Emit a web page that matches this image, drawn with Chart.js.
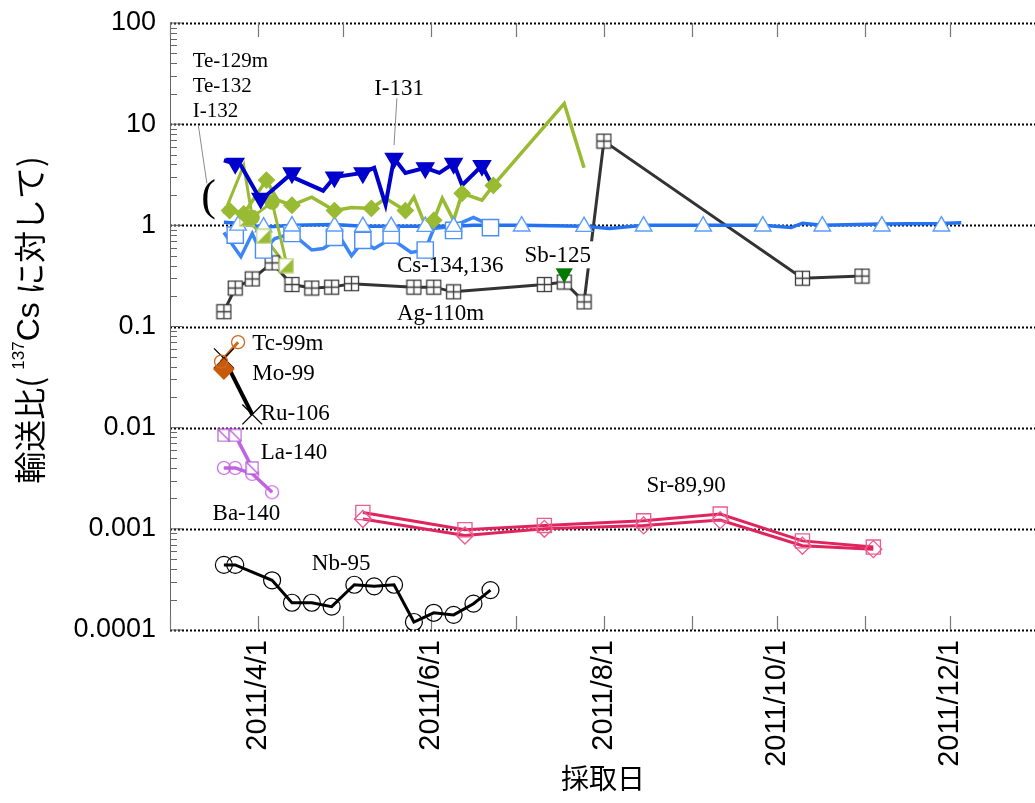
<!DOCTYPE html>
<html>
<head>
<meta charset="utf-8">
<script src="https://cdn.jsdelivr.net/npm/chart.js@4.4.1/dist/chart.umd.min.js"></script>
<style>
  html, body { margin: 0; padding: 0; background: #fff; }
  #wrap { width: 1035px; height: 803px; }
</style>
</head>
<body>
<div id="wrap"><canvas id="c" width="1035" height="803"></canvas></div>
<script>
/* ── Axes ───────────────────────────────────────────────────────────── */
// days counted from 2011/3/1
const MONTH_START   = { 3: 0, 4: 31, 5: 61, 6: 92, 7: 122, 8: 153, 9: 184, 10: 214, 11: 245, 12: 275 };
const X_TICK_DAYS   = [0, 31, 61, 92, 122, 153, 184, 214, 245, 275];
const X_TICK_LABELS = ['', '2011/4/1', '', '2011/6/1', '', '2011/8/1', '', '2011/10/1', '', '2011/12/1'];
const Y_TICKS       = [0.0001, 0.001, 0.01, 0.1, 1, 10, 100];
const Y_TICK_LABELS = ['0.0001', '0.001', '0.01', '0.1', '1', '10', '100'];

/* ── Series ─────────────────────────────────────────────────────────── */
const i131LineDates = ['3/20','3/26','4/2','4/12','4/24','4/28','5/8','5/12','5/16','5/19','5/23','5/30','6/4','6/9','6/12','6/19','6/22'];
const i131LineVals  = [4.4, 3.9, 1.77, 3.1, 2.2, 3.0, 3.3, 3.7, 1.6, 4.6, 3.3, 3.7, 3.3, 4.1, 2.5, 3.9, 2.7];
const i131Dates     = ['3/24','4/2','4/13','4/28','5/8','5/19','5/30','6/9','6/19'];
const i131Vals      = [4.1, 1.85, 3.3, 3.0, 3.3, 4.6, 3.7, 4.1, 3.9];

const te129mLineDates = ['3/20','3/22','3/27','4/4','4/8','4/13','4/20','4/28','5/4','5/11','5/16','5/23','5/26','5/30','6/2','6/5','6/9','6/12','6/19','6/23','7/18','7/25'];
const te129mLineVals  = [1.5, 1.4, 1.3, 2.8, 1.77, 1.58, 1.9, 1.4, 1.5, 1.47, 1.85, 1.4, 1.9, 1.0, 1.12, 1.85, 1.12, 2.07, 1.77, 2.48, 16, 3.7];
const te129mDates     = ['3/22','3/27','4/4','4/13','4/28','5/11','5/23','6/2','6/12','6/23'];
const te129mVals      = [1.4, 1.3, 2.8, 1.58, 1.4, 1.47, 1.4, 1.12, 2.07, 2.48];

const te132LineDates = ['3/20','3/27','3/30','4/6','4/11'];
const te132LineVals  = [1.3, 3.9, 1.2, 1.7, 0.43];
const te132Dates     = ['3/30','4/6'];
const te132Vals      = [1.2, 1.7];

const i132Dates = ['3/28','4/3','4/11'];
const i132Vals  = [1.15, 0.78, 0.40];

const cs134LineDates = ['3/20','3/25','4/3','4/13','4/28','5/8','5/18','5/30','6/9','6/16','7/3','7/25','8/3','8/15','9/5','9/26','10/6','10/10','10/17','11/7','11/28','12/5'];
const cs134LineVals  = [1.07, 1.05, 0.96, 1.0, 1.02, 0.98, 0.98, 0.98, 0.98, 1.0, 1.0, 0.98, 0.93, 1.0, 1.0, 1.0, 0.95, 1.05, 1.0, 1.03, 1.04, 1.06];
const cs134Dates     = ['3/25','4/3','4/13','4/28','5/8','5/18','5/30','6/9','7/3','7/25','8/15','9/5','9/26','10/17','11/7','11/28'];
const cs134Vals      = [1.0, 0.96, 0.98, 0.98, 0.97, 0.97, 0.97, 0.97, 0.98, 0.97, 0.98, 0.98, 0.98, 0.98, 0.98, 0.98];

const cs136LineDates = ['3/20','3/26','3/30','4/2','4/7','4/13','4/20','4/24','4/30','5/4','5/8','5/12','5/18','5/25','5/30','6/2','6/9','6/16','6/22'];
const cs136LineVals  = [0.85, 0.49, 0.83, 0.54, 0.74, 0.83, 0.57, 0.59, 0.76, 0.50, 0.69, 0.59, 0.74, 0.54, 0.57, 0.93, 0.98, 1.2, 1.0];
const cs136Dates     = ['3/24','4/3','4/13','4/28','5/8','5/18','5/30','6/9','6/22'];
const cs136Vals      = [0.80, 0.57, 0.83, 0.76, 0.71, 0.80, 0.57, 0.89, 0.95];

const agDates = ['3/20','3/24','3/30','4/6','4/13','4/20','4/27','5/4','5/26','6/2','6/9','7/11','7/18','7/25','8/1','10/10','10/31'];
const agVals  = [0.14, 0.24, 0.295, 0.425, 0.26, 0.24, 0.245, 0.265, 0.245, 0.245, 0.22, 0.26, 0.275, 0.175, 6.8, 0.30, 0.315];

const sbDates = ['7/18'];
const sbVals  = [0.338];

const tcDates = ['3/19','3/25'];
const tcVals  = [0.045, 0.070];
const moDates = ['3/20'];
const moVals  = [0.038];
const ruDates = ['3/20','3/30'];
const ruVals  = [0.0485, 0.0135];

const laDates = ['3/20','3/24','3/30'];
const laVals  = [0.0084, 0.0084, 0.0040];
const baDates = ['3/20','3/24','3/30','4/6'];
const baVals  = [0.0040, 0.0040, 0.0035, 0.0023];

const srDates       = ['5/8','6/13','7/11','8/15','9/11','10/10','11/4'];
const srSquareVals  = [1.45e-3, 9.8e-4, 1.08e-3, 1.2e-3, 1.4e-3, 7.6e-4, 6.6e-4];
const srDiamondVals = [1.25e-3, 8.6e-4, 1.0e-3, 1.08e-3, 1.22e-3, 6.8e-4, 6.3e-4];

const nbDates = ['3/20','3/24','4/6','4/13','4/20','4/27','5/5','5/12','5/19','5/26','6/2','6/9','6/16','6/22'];
const nbVals  = [4.4e-4, 4.4e-4, 3.1e-4, 1.86e-4, 1.86e-4, 1.7e-4, 2.8e-4, 2.7e-4, 2.8e-4, 1.2e-4, 1.48e-4, 1.41e-4, 1.82e-4, 2.48e-4];

/* ── Helpers ────────────────────────────────────────────────────────── */
function day(md) {
    const [m, d] = md.split('/').map(Number);
    return MONTH_START[m] + d - 1;
}
const pts = (dates, vals) => dates.map((d, i) => ({ x: day(d), y: vals[i] }));

function line(dates, vals, color, width) {
    return { data: pts(dates, vals), borderColor: color, borderWidth: width,
             pointRadius: 0, showLine: true, fill: false, tension: 0 };
}
function marks(dates, vals, o) {
    return Object.assign({ data: pts(dates, vals), showLine: false,
        pointBorderWidth: 1.3, pointBackgroundColor: 'transparent' }, o);
}
function mk(size, fn) {
    const c = document.createElement('canvas');
    c.width = c.height = size;
    fn(c.getContext('2d'), size);
    return c;
}

/* ── Custom markers ─────────────────────────────────────────────────── */
const plusSquare = mk(17, (g, s) => {
    g.fillStyle = '#fff'; g.fillRect(1.5, 1.5, s - 3, s - 3);
    g.strokeStyle = '#3c3c3c'; g.lineWidth = 1.3;
    g.strokeRect(1.5, 1.5, s - 3, s - 3);
    g.beginPath();
    g.moveTo(s / 2, 1.5); g.lineTo(s / 2, s - 1.5);
    g.moveTo(1.5, s / 2); g.lineTo(s - 1.5, s / 2);
    g.stroke();
});
const diagSquare = mk(14, (g, s) => {
    g.fillStyle = '#fff'; g.fillRect(1, 1, s - 2, s - 2);
    g.strokeStyle = '#b45ad6'; g.lineWidth = 1.2;
    g.strokeRect(1, 1, s - 2, s - 2);
    g.beginPath(); g.moveTo(1, 1); g.lineTo(s - 1, s - 1); g.stroke();
});
const halfSquare = mk(16, (g, s) => {
    g.fillStyle = '#fff'; g.fillRect(1, 1, s - 2, s - 2);
    g.fillStyle = '#99bb33';
    g.beginPath(); g.moveTo(s - 1, 1); g.lineTo(s - 1, s - 1); g.lineTo(1, s - 1); g.closePath(); g.fill();
    g.strokeStyle = '#b8cf70'; g.lineWidth = 1.2;
    g.strokeRect(1, 1, s - 2, s - 2);
});
const dotCircle = mk(16, (g, s) => {
    g.strokeStyle = '#c45fe2'; g.lineWidth = 1.2;
    g.beginPath(); g.arc(s / 2, s / 2, 6.5, 0, Math.PI * 2); g.stroke();
    g.fillStyle = '#c45fe2';
    g.fillRect(s / 2 - 0.5, s / 2 - 0.5, 1, 1);
});

/* ── Annotations (data coordinates) ─────────────────────────────────── */
const NOTES = [
    { t: 'Te-129m',    d: '3/9',  v: 36.4,   size: 21 },
    { t: 'Te-132',     d: '3/9',  v: 20.6,   size: 21 },
    { t: 'I-132',      d: '3/9',  v: 11.7,   size: 21 },
    { t: 'I-131',      d: '5/12', v: 19.3,   size: 23 },
    { t: 'Cs-134,136', d: '5/20', v: 0.343,  size: 23 },
    { t: 'Ag-110m',    d: '5/20', v: 0.115,  size: 23 },
    { t: 'Sb-125',     d: '7/4',  v: 0.431,  size: 23, bg: true },
    { t: 'Tc-99m',     d: '3/30', v: 0.0582, size: 23 },
    { t: 'Mo-99',      d: '3/30', v: 0.0294, size: 23 },
    { t: 'Ru-106',     d: '4/2',  v: 0.0118, size: 23 },
    { t: 'La-140',     d: '4/2',  v: 0.00487,size: 23 },
    { t: 'Ba-140',     d: '3/16', v: 0.00122,size: 23 },
    { t: 'Nb-95',      d: '4/20', v: 3.9e-4, size: 23 },
    { t: 'Sr-89,90',   d: '8/16', v: 0.0023, size: 23 },
    { t: '(',          d: '3/12', v: 1.41,   size: 44 },
];
const LEADERS = [
    ['3/11', 9.7, '3/14', 2.6],
    ['5/20', 18,  '5/19', 6.2],
];

/* ── Plugins ────────────────────────────────────────────────────────── */
const frame = {
    id: 'frame',
    beforeDatasetsDraw(chart) {
        const { ctx, chartArea: a, scales: { x, y } } = chart;
        ctx.save();
        // dotted decade lines
        ctx.strokeStyle = '#000';
        ctx.lineWidth = 2;
        ctx.setLineDash([2, 2]);
        Y_TICKS.forEach(v => {
            const py = Math.round(y.getPixelForValue(v)) + 0.5;
            ctx.beginPath(); ctx.moveTo(a.left, py); ctx.lineTo(a.right, py); ctx.stroke();
        });
        ctx.setLineDash([]);
        // left axis with minor ticks
        ctx.strokeStyle = '#666';
        ctx.lineWidth = 1;
        ctx.beginPath(); ctx.moveTo(a.left + 0.5, a.top); ctx.lineTo(a.left + 0.5, a.bottom); ctx.stroke();
        Y_TICKS.forEach((v, i) => {
            let py = y.getPixelForValue(v);
            ctx.beginPath(); ctx.moveTo(a.left, py); ctx.lineTo(a.left + 12, py); ctx.stroke();
            if (i === Y_TICKS.length - 1) return;
            for (let k = 2; k < 10; k++) {
                py = Math.round(y.getPixelForValue(v * k)) + 0.5;
                ctx.beginPath(); ctx.moveTo(a.left, py); ctx.lineTo(a.left + 7, py); ctx.stroke();
            }
        });
        // month ticks on top and bottom
        ctx.strokeStyle = '#777';
        ctx.lineWidth = 1.2;
        X_TICK_DAYS.forEach(d => {
            const px = Math.round(x.getPixelForValue(d)) + 0.5;
            ctx.beginPath();
            ctx.moveTo(px, a.bottom); ctx.lineTo(px, a.bottom - 14);
            ctx.moveTo(px, a.top);    ctx.lineTo(px, a.top + 14);
            ctx.stroke();
        });
        ctx.restore();
    },
};

const notes = {
    id: 'notes',
    afterDatasetsDraw(chart) {
        const { ctx, scales: { x, y } } = chart;
        ctx.save();
        ctx.strokeStyle = '#8a8a8a';
        ctx.lineWidth = 1;
        LEADERS.forEach(([d1, v1, d2, v2]) => {
            ctx.beginPath();
            ctx.moveTo(x.getPixelForValue(day(d1)), y.getPixelForValue(v1));
            ctx.lineTo(x.getPixelForValue(day(d2)), y.getPixelForValue(v2));
            ctx.stroke();
        });
        ctx.textBaseline = 'alphabetic';
        ctx.textAlign = 'left';
        NOTES.forEach(n => {
            ctx.font = `${n.size}px "Liberation Serif", "Times New Roman", serif`;
            const px = x.getPixelForValue(day(n.d));
            const py = y.getPixelForValue(n.v);
            if (n.bg) {
                const w = ctx.measureText(n.t).width;
                ctx.fillStyle = '#fff';
                ctx.fillRect(px - 2, py - n.size + 2, w + 4, n.size + 4);
            }
            ctx.fillStyle = '#000';
            ctx.fillText(n.t, px, py);
        });
        ctx.restore();
    },
};

const titles = {
    id: 'titles',
    afterDraw(chart) {
        const { ctx } = chart;
        const cjk = '"Noto Sans CJK JP", sans-serif';
        const sans = '"Liberation Sans", Arial, sans-serif';
        ctx.save();
        ctx.fillStyle = '#000';
        ctx.textBaseline = 'middle';
        ctx.textAlign = 'center';
        ctx.font = `28px ${cjk}`;
        ctx.fillText('採取日', 603, 778);

        const parts = [
            { t: '輸送比( ', f: `32px ${cjk}`, dy: 0 },
            { t: '137', f: `17px ${sans}`, dy: -11 },
            { t: 'Cs', f: `32px ${sans}`, dy: 0 },
            { t: ' に対して)', f: `32px ${cjk}`, dy: 0 },
        ];
        let total = 0;
        parts.forEach(p => { ctx.font = p.f; p.w = ctx.measureText(p.t).width; total += p.w; });
        ctx.translate(30, 320);
        ctx.rotate(-Math.PI / 2);
        ctx.textAlign = 'left';
        let cx = -total / 2;
        parts.forEach(p => {
            ctx.font = p.f;
            ctx.fillText(p.t, cx, p.dy);
            cx += p.w;
        });
        ctx.restore();
    },
};

/* ── Chart ──────────────────────────────────────────────────────────── */
function build() {
    const green = '#99bb33';
    const datasets = [
        // markers (drawn on top)
        marks(sbDates, sbVals, { pointStyle: 'triangle', rotation: 180, pointRadius: 9,
            pointBackgroundColor: '#007a00', pointBorderColor: '#007a00' }),
        marks(i131Dates, i131Vals, { pointStyle: 'triangle', rotation: 180, pointRadius: 10,
            pointBackgroundColor: '#0000cc', pointBorderColor: '#0000cc' }),
        marks(te129mDates, te129mVals, { pointStyle: 'rectRot', pointRadius: 8,
            pointBackgroundColor: green, pointBorderColor: green }),
        marks(te132Dates, te132Vals, { pointStyle: 'circle', pointRadius: 7,
            pointBackgroundColor: green, pointBorderColor: green }),
        marks(i132Dates, i132Vals, { pointStyle: halfSquare, pointRadius: 8 }),
        marks(cs134Dates, cs134Vals, { pointStyle: 'triangle', pointRadius: 9.5,
            pointBackgroundColor: '#fff', pointBorderColor: '#5a9cff', pointBorderWidth: 1.4 }),
        marks(cs136Dates, cs136Vals, { pointStyle: 'rect', pointRadius: 11.5,
            pointBackgroundColor: '#fff', pointBorderColor: '#4a8df5', pointBorderWidth: 1.4 }),
        marks(agDates, agVals, { pointStyle: plusSquare, pointRadius: 8 }),
        marks(tcDates, tcVals, { pointStyle: 'circle', pointRadius: 6.5, pointBorderColor: '#d2691e' }),
        marks(moDates, moVals, { pointStyle: 'rectRot', pointRadius: 10,
            pointBackgroundColor: '#c85a0c', pointBorderColor: '#c85a0c' }),
        marks(ruDates, ruVals, { pointStyle: 'crossRot', pointRadius: 14, pointBorderColor: '#000', pointBorderWidth: 1.3 }),
        marks(laDates, laVals, { pointStyle: diagSquare, pointRadius: 7 }),
        marks(baDates, baVals, { pointStyle: dotCircle, pointRadius: 8 }),
        marks(srDates, srSquareVals, { pointStyle: 'rect', pointRadius: 10, pointBorderColor: '#ec5c8f' }),
        marks(srDates, srDiamondVals, { pointStyle: 'rectRot', pointRadius: 8.5, pointBorderColor: '#ec5c8f' }),
        marks(nbDates, nbVals, { pointStyle: 'circle', pointRadius: 8.5, pointBorderColor: '#000', pointBorderWidth: 1.2 }),
        // lines
        line(i131LineDates, i131LineVals, '#0000cc', 4),
        line(te129mLineDates, te129mLineVals, green, 3.5),
        line(te132LineDates, te132LineVals, green, 3),
        line(i132Dates, i132Vals, green, 3),
        line(cs134LineDates, cs134LineVals, '#2272f2', 3.5),
        line(cs136LineDates, cs136LineVals, '#3a86f8', 3.5),
        line(agDates, agVals, '#333333', 3),
        line(tcDates, tcVals, '#d2691e', 3),
        line(ruDates, ruVals, '#000', 4),
        line(laDates, laVals, '#c064e0', 3.5),
        line(baDates, baVals, '#c064e0', 3.5),
        line(srDates, srSquareVals, '#e0245e', 3),
        line(srDates, srDiamondVals, '#e0245e', 3),
        line(nbDates, nbVals, '#000', 3),
    ];

    new Chart(document.getElementById('c'), {
        type: 'line',
        data: { datasets },
        plugins: [frame, notes, titles],
        options: {
            responsive: false,
            devicePixelRatio: 1,
            animation: false,
            events: [],
            layout: { autoPadding: false, padding: { top: 23, left: 0, right: 0, bottom: 0 } },
            plugins: { legend: { display: false }, tooltip: { enabled: false } },
            scales: {
                x: {
                    type: 'linear',
                    min: 0, max: 305,
                    afterBuildTicks: s => {
                        s.ticks = X_TICK_DAYS.filter((d, i) => X_TICK_LABELS[i]).map(v => ({ value: v }));
                    },
                    afterFit: s => { s.height = 173; s.paddingLeft = 0; s.paddingRight = 0; },
                    grid: { display: false, drawTicks: false, tickLength: 0 },
                    border: { display: false },
                    ticks: {
                        autoSkip: false,
                        minRotation: 90, maxRotation: 90,
                        padding: 10,
                        color: '#000',
                        font: { family: '"Liberation Sans", Arial, sans-serif', size: 29 },
                        callback: v => X_TICK_LABELS[X_TICK_DAYS.indexOf(v)],
                    },
                },
                y: {
                    type: 'logarithmic',
                    min: 0.0001, max: 100,
                    afterBuildTicks: s => { s.ticks = Y_TICKS.map(v => ({ value: v })); },
                    afterFit: s => { s.width = 170; s.paddingTop = 0; s.paddingBottom = 0; },
                    grid: { display: false, drawTicks: false, tickLength: 0 },
                    border: { display: false },
                    ticks: {
                        padding: 14,
                        color: '#000',
                        font: { family: '"Liberation Sans", Arial, sans-serif', size: 27 },
                        callback: v => Y_TICK_LABELS[Y_TICKS.indexOf(v)],
                    },
                },
            },
        },
    });
}

document.fonts.ready.then(build);
</script>
</body>
</html>
